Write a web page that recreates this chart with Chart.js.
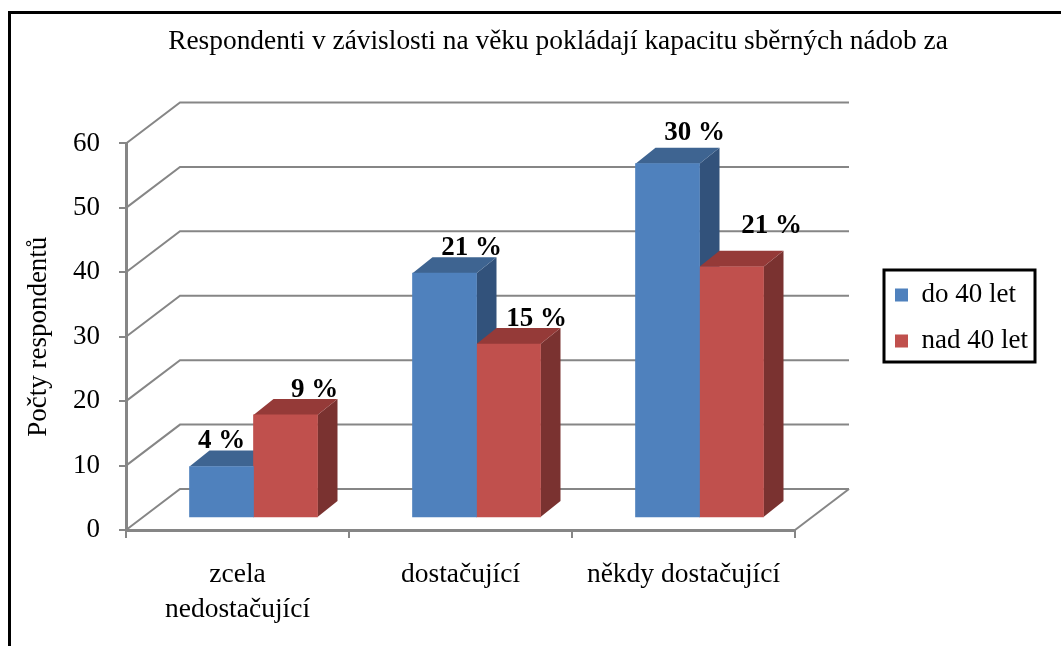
<!DOCTYPE html>
<html lang="cs">
<head>
<meta charset="utf-8">
<title>Kapacita sběrných nádob</title>
<script src="https://cdn.jsdelivr.net/npm/chart.js@4/dist/chart.umd.min.js"></script>
<style>
  html, body { margin: 0; padding: 0; background: #fff; }
  #wrap { width: 1061px; height: 646px; }
</style>
</head>
<body>
<div id="wrap"><canvas id="chart" width="1061" height="646"></canvas></div>
<script>
const categories = [['zcela', 'nedostačující'], 'dostačující', 'někdy dostačující'];
const seriesNames = ['do 40 let', 'nad 40 let'];
const under40 = [8, 38, 55];
const over40 = [16, 27, 39];
const under40Labels = ['4 %', '21 %', '30 %'];
const over40Labels = ['9 %', '15 %', '21 %'];
const yTicks = [0, 10, 20, 30, 40, 50, 60];

const FONT = '"Liberation Serif", serif';
const GRID = '#868686';
const WALL = { dx: 54, dy: -41 };      // back wall offset from the front plane
const SHIFT = { dx: 16, dy: -12 };     // bars stand between front plane and wall
const BAR_DEPTH = { dx: 20, dy: -16 };

const faces = [
  { front: '#4f81bd', top: '#3e6491', side: '#32527b' },
  { front: '#c0504d', top: '#953a38', side: '#7a3230' }
];
// label nudges from the bar's top centre
const labelNudge = [
  [[0, -25], [29, -25]],
  [[27, -25], [28, -25]],
  [[27, -31], [40, -41]]
];
const labelText = [under40Labels, over40Labels];

function poly(ctx, pts, fill) {
  ctx.beginPath();
  pts.forEach((p, i) => i ? ctx.lineTo(p[0], p[1]) : ctx.moveTo(p[0], p[1]));
  ctx.closePath();
  ctx.fillStyle = fill;
  ctx.fill();
}

const chart3d = {
  id: 'chart3d',
  beforeLayout(chart) {
    // legend reserves the whole right margin, its box is placed in afterLayout
    chart.legend.fit = function () {
      Object.getPrototypeOf(this).fit.call(this);
      this.width = 266;
    };
  },
  afterLayout(chart) {
    const l = chart.legend;
    l.left = 876;
    l.right = 1142;
    l.top = 262.5;
    l.bottom = 400;
    chart.titleBlock.left = 55;
    chart.titleBlock.right = 1061;
  },
  beforeDatasetsDraw(chart) {
    const { ctx, chartArea: a, scales: { y } } = chart;
    ctx.save();
    ctx.strokeStyle = GRID;
    ctx.lineWidth = 2;
    yTicks.forEach(v => {
      const py = y.getPixelForValue(v);
      ctx.beginPath();
      ctx.moveTo(a.left, py);
      ctx.lineTo(a.left + WALL.dx, py + WALL.dy);
      ctx.lineTo(a.right + WALL.dx, py + WALL.dy);
      ctx.stroke();
    });
    // floor edge on the right
    ctx.beginPath();
    ctx.moveTo(a.right, a.bottom);
    ctx.lineTo(a.right + WALL.dx, a.bottom + WALL.dy);
    ctx.stroke();

    ctx.translate(SHIFT.dx, SHIFT.dy);
    chart.data.datasets.forEach((ds, d) => {
      chart.getDatasetMeta(d).data.forEach(bar => {
        const p = bar.getProps(['x', 'y', 'base', 'width']);
        const x0 = p.x - p.width / 2, x1 = p.x + p.width / 2;
        poly(ctx, [[x1, p.y], [x1 + BAR_DEPTH.dx, p.y + BAR_DEPTH.dy],
          [x1 + BAR_DEPTH.dx, p.base + BAR_DEPTH.dy], [x1, p.base]], faces[d].side);
        poly(ctx, [[x0, p.y], [x0 + BAR_DEPTH.dx, p.y + BAR_DEPTH.dy],
          [x1 + BAR_DEPTH.dx, p.y + BAR_DEPTH.dy], [x1, p.y]], faces[d].top);
      });
    });
    // left translated: the fronts are drawn by the library right after this
  },
  afterDatasetsDraw(chart) {
    const { ctx } = chart;
    chart.data.datasets.forEach((ds, d) => {
      chart.getDatasetMeta(d).data.forEach((bar, i) => {
        ctx.font = 'bold 27px ' + FONT;
        ctx.fillStyle = '#000';
        ctx.textAlign = 'center';
        ctx.textBaseline = 'middle';
        ctx.fillText(labelText[d][i], bar.x + labelNudge[i][d][0], bar.y + labelNudge[i][d][1]);
      });
    });
    ctx.restore();
  },
  afterDraw(chart) {
    const { ctx } = chart;
    ctx.save();
    ctx.strokeStyle = '#000';
    ctx.lineWidth = 3;
    // picture frame, only top and left show in the crop
    ctx.beginPath();
    ctx.moveTo(9.5, 646);
    ctx.lineTo(9.5, 12.5);
    ctx.lineTo(1061, 12.5);
    ctx.stroke();
    // legend box
    ctx.strokeRect(884, 270, 151, 92);
    ctx.restore();
  }
};

new Chart(document.getElementById('chart'), {
  type: 'bar',
  data: {
    labels: categories,
    datasets: [
      { label: seriesNames[0], data: under40, backgroundColor: faces[0].front, barThickness: 64, borderWidth: 0 },
      { label: seriesNames[1], data: over40, backgroundColor: faces[1].front, barThickness: 64, borderWidth: 0 }
    ]
  },
  plugins: [chart3d],
  options: {
    responsive: false,
    animation: false,
    layout: { padding: 0 },
    plugins: {
      tooltip: { enabled: false },
      title: {
        display: true,
        text: 'Respondenti v závislosti na věku pokládají kapacitu sběrných nádob za',
        color: '#000',
        font: { family: FONT, size: 27.4, weight: 'normal' },
        padding: { top: 25.5, bottom: 85.1 }
      },
      legend: {
        position: 'right',
        align: 'start',
        labels: {
          color: '#000',
          font: { family: FONT, size: 27 },
          boxWidth: 13,
          boxHeight: 13,
          padding: 19
        }
      }
    },
    scales: {
      x: {
        afterFit(s) { s.height = 116; },
        border: { color: GRID, width: 3 },
        grid: { drawOnChartArea: false, drawTicks: true, tickLength: 8, color: GRID, lineWidth: 2 },
        ticks: {
          color: '#000',
          font: { family: FONT, size: 27.5, lineHeight: 1.25 },
          maxRotation: 0,
          autoSkip: false,
          padding: 20
        }
      },
      y: {
        min: 0,
        max: 60,
        afterFit(s) { s.width = 126; },
        border: { color: GRID, width: 3 },
        grid: { drawOnChartArea: false, drawTicks: true, tickLength: 7, color: GRID, lineWidth: 2 },
        ticks: {
          color: '#000',
          font: { family: FONT, size: 27 },
          stepSize: 10,
          padding: 19
        },
        title: {
          display: true,
          text: 'Počty respondentů',
          color: '#000',
          font: { family: FONT, size: 27 },
          padding: { top: 23, bottom: 0 }
        }
      }
    }
  }
});
</script>
</body>
</html>
